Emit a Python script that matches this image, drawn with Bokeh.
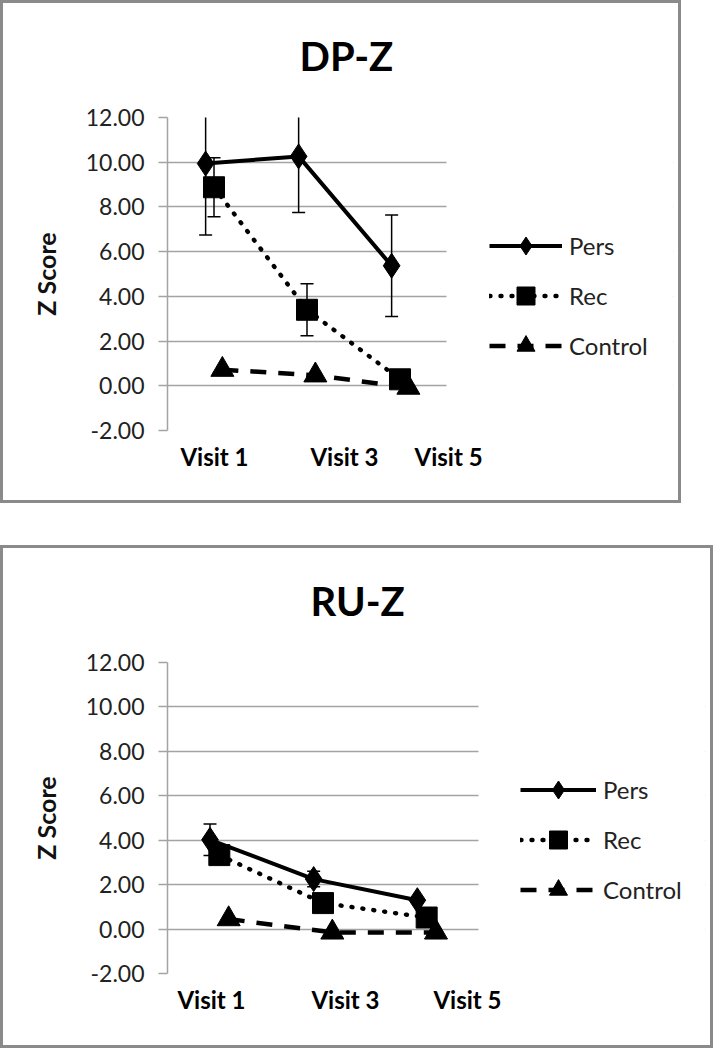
import numpy as np
from bokeh.plotting import figure
from bokeh.models import (Range1d, FixedTicker, PrintfTickFormatter, Legend,
                          LegendItem, BoxAnnotation, Title)
from bokeh.layouts import column
from bokeh.embed import file_html
from bokeh.resources import INLINE

# ---------------- data ----------------
visits = ["Visit 1", "Visit 3", "Visit 5"]
series_names = ["Pers", "Rec", "Control"]

dp_pers = [9.94, 10.26, 5.37]
dp_pers_err = [3.19, 2.51, 2.27]
dp_rec = [8.88, 3.40, 0.29]
dp_rec_err = [1.32, 1.16, 0.0]
dp_control = [0.72, 0.47, -0.08]
dp_control_err = [0.0, 0.0, 0.0]

ru_pers = [4.02, 2.25, 1.30]
ru_pers_err = [0.71, 0.35, 0.0]
ru_rec = [3.33, 1.17, 0.52]
ru_rec_err = [0.0, 0.0, 0.0]
ru_control = [0.45, -0.15, -0.15]
ru_control_err = [0.0, 0.0, 0.0]

y_ticks = [-2, 0, 2, 4, 6, 8, 10, 12]
y_label = "Z Score"
titles = ["DP-Z", "RU-Z"]

# positions of the category labels along each x axis (layout, in axis units)
dp_label_pos = [0.505, 1.903, 3.022]
ru_label_pos = [0.424, 1.717, 2.894]

# ---------------- styles ----------------
FONT = "Lato"
GRID = "#a3a3a3"
N_CAT = 3
STYLE = {
    "Pers": dict(dash="solid", width=4, cap="butt", marker="diamond", size=25, offset=-0.09),
    "Rec": dict(dash="1 10", width=4.4, cap="round", marker="square", size=21, offset=0.0),
    "Control": dict(dash="16 12", width=4.5, cap="butt", marker="triangle", size=23, offset=0.09),
}


def make_panel(title, vals, errs, W, H, mb, plot_px, title_offset, label_pos, legend_loc, legend_gw):
    frame_w = W - mb[0] - mb[1]
    x_end = N_CAT * frame_w / plot_px   # the grid area spans plot_px pixels; the rest holds the legend
    p = figure(width=W, height=H, x_range=Range1d(0, x_end), y_range=Range1d(-2, 12),
               output_backend="svg", toolbar_location=None,
               min_border_left=mb[0], min_border_right=mb[1],
               min_border_top=mb[2], min_border_bottom=mb[3])
    p.outline_line_color = None
    p.background_fill_color = "white"
    p.border_fill_color = "white"

    # spacer between the frame and the title
    p.add_layout(Title(text=" ", text_font_size="8px", standoff=22), "above")

    # title
    p.title.text = title
    p.title.align = "left"
    p.title.offset = title_offset
    p.title.text_font = FONT
    p.title.text_font_style = "bold"
    p.title.text_font_size = "40px"
    p.title.text_color = "black"
    p.title.standoff = 10

    # x axis: category labels only
    xa = p.xaxis[0]
    xa.ticker = FixedTicker(ticks=label_pos)
    xa.major_label_overrides = {float(k): v for k, v in zip(label_pos, visits)}
    xa.axis_line_color = None
    xa.major_tick_line_color = None
    xa.minor_tick_line_color = None
    xa.major_tick_out = 0
    xa.major_tick_in = 0
    xa.major_label_standoff = 11
    xa.major_label_text_font = FONT
    xa.major_label_text_font_style = "bold"
    xa.major_label_text_font_size = "24px"
    xa.major_label_text_color = "black"
    p.xgrid.visible = False

    ya = p.yaxis[0]
    ya.ticker = FixedTicker(ticks=y_ticks)
    ya.formatter = PrintfTickFormatter(format="%.2f")
    ya.axis_line_color = GRID
    ya.axis_line_width = 1.5
    ya.major_tick_line_color = GRID
    ya.major_tick_line_width = 1.5
    ya.major_tick_out = 9
    ya.major_tick_in = 0
    ya.minor_tick_line_color = None
    ya.major_label_text_font = FONT
    ya.major_label_text_font_size = "23px"
    ya.major_label_text_color = "#222222"
    ya.major_label_standoff = 14
    ya.axis_label = y_label
    ya.axis_label_text_font = FONT
    ya.axis_label_text_font_style = "bold"
    ya.axis_label_text_font_size = "25px"
    ya.axis_label_text_color = "#111111"
    ya.axis_label_standoff = 22

    p.ygrid.ticker = FixedTicker(ticks=y_ticks)
    p.ygrid.grid_line_color = GRID
    p.ygrid.grid_line_width = 1.5

    items = []
    for name in series_names:
        st = STYLE[name]
        xs = np.arange(len(visits)) + 0.5 + st["offset"]
        v = np.array(vals[name], dtype=float)
        e = np.array(errs[name], dtype=float)
        m = e > 0
        if m.any():
            lo = v[m] - e[m]
            hi = v[m] + e[m]
            p.segment(x0=xs[m], y0=lo, x1=xs[m], y1=hi, line_color="black", line_width=1.5)
            p.scatter(x=np.concatenate([xs[m], xs[m]]), y=np.concatenate([lo, hi]),
                      marker="dash", size=13, line_color="black", line_width=1.5)
        lr = p.line(xs, v, line_color="black", line_width=st["width"],
                    line_dash=st["dash"], line_cap=st["cap"])
        sr = p.scatter(xs, v, marker=st["marker"], size=st["size"],
                       fill_color="black", line_color="black")
        items.append(LegendItem(label=name, renderers=[lr, sr]))

    # blank the gridlines to the right of the category area (legend zone)
    p.add_layout(BoxAnnotation(left=N_CAT, fill_color="white", fill_alpha=1.0,
                               line_color=None))

    legend = Legend(items=items, location=legend_loc, orientation="vertical",
                    glyph_width=legend_gw, glyph_height=45, label_height=45,
                    spacing=5, padding=0, margin=0, label_standoff=7,
                    border_line_color=None, background_fill_alpha=0,
                    label_text_font=FONT, label_text_font_size="24px",
                    label_text_color="#222222")
    p.add_layout(legend)
    return p


top = make_panel(
    titles[0],
    {"Pers": dp_pers, "Rec": dp_rec, "Control": dp_control},
    {"Pers": dp_pers_err, "Rec": dp_rec_err, "Control": dp_control_err},
    W=675, H=497, mb=(164, 5, 114, 70), plot_px=279, title_offset=132,
    label_pos=dp_label_pos, legend_loc=(322, 62), legend_gw=73)

bottom = make_panel(
    titles[1],
    {"Pers": ru_pers, "Rec": ru_rec, "Control": ru_control},
    {"Pers": ru_pers_err, "Rec": ru_rec_err, "Control": ru_control_err},
    W=707, H=497, mb=(164, 5, 114, 72), plot_px=311, title_offset=143,
    label_pos=ru_label_pos, legend_loc=(353, 61), legend_gw=76)

BORDER = {"border": "3px solid #8a8a8a"}
layout = column(column(top, styles=BORDER), column(bottom, styles=BORDER), spacing=42)

open("out.html", "w").write(file_html(layout, INLINE))
